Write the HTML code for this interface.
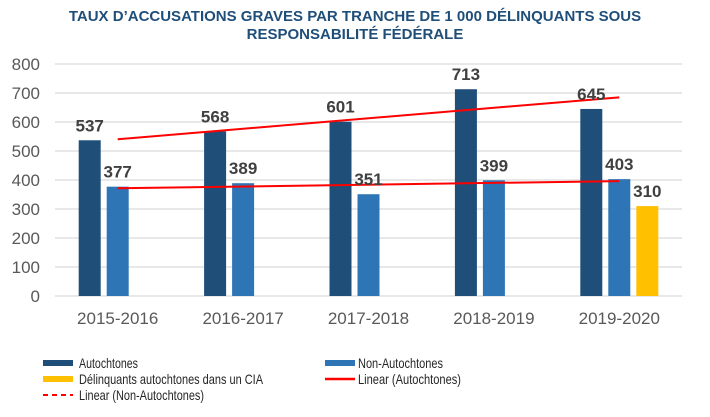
<!DOCTYPE html>
<html><head><meta charset="utf-8"><style>
body{margin:0;background:#fff;}
svg{display:block;font-family:"Liberation Sans",Arial,sans-serif;}
</style></head><body>
<svg id="chart" width="710" height="417">
<text x="355" y="21" text-anchor="middle" font-size="15" font-weight="bold" fill="#1f4e79">TAUX D’ACCUSATIONS GRAVES PAR TRANCHE DE 1 000 DÉLINQUANTS SOUS</text>
<text x="355" y="39" text-anchor="middle" font-size="15" font-weight="bold" fill="#1f4e79">RESPONSABILITÉ FÉDÉRALE</text>
<g id="grid"></g><g id="bars"></g><g id="trends"></g><g id="labels"></g>
<g font-size="14" fill="#262626">
 <rect x="43" y="360" width="30" height="6" fill="#1f4e79"/>
 <text x="79" y="368" textLength="59" lengthAdjust="spacingAndGlyphs">Autochtones</text>
 <rect x="325" y="360" width="30" height="6" fill="#2e75b6"/>
 <text x="358" y="368" textLength="85" lengthAdjust="spacingAndGlyphs">Non-Autochtones</text>
 <rect x="43" y="376" width="30" height="6" fill="#ffc000"/>
 <text x="79" y="384" textLength="184" lengthAdjust="spacingAndGlyphs">Délinquants autochtones dans un CIA</text>
 <line x1="325" y1="379" x2="355" y2="379" stroke="#ff0000" stroke-width="2.5"/>
 <text x="358" y="384" textLength="103" lengthAdjust="spacingAndGlyphs">Linear (Autochtones)</text>
 <line x1="43" y1="395" x2="73" y2="395" stroke="#ff0000" stroke-width="2" stroke-dasharray="5,4"/>
 <text x="79" y="400" textLength="125" lengthAdjust="spacingAndGlyphs">Linear (Non-Autochtones)</text>
</g>
</svg>
<script>
const categories=["2015-2016","2016-2017","2017-2018","2018-2019","2019-2020"];
const autochtones=[537,568,601,713,645];
const nonAutochtones=[377,389,351,399,403];
const cia=[null,null,null,null,310];
const yTicks=[0,100,200,300,400,500,600,700,800];
const NS="http://www.w3.org/2000/svg";
const x0=55,x1=682,y0=296,yTop=64,yMax=800;
const catW=(x1-x0)/categories.length;
function y(v){return y0-(v/yMax)*(y0-yTop);}
function cx(i){return x0+catW*(i+0.5);}
function mk(tag,attrs,parent,text){const e=document.createElementNS(NS,tag);for(const k in attrs)e.setAttribute(k,attrs[k]);if(text!=null)e.textContent=text;document.getElementById(parent).appendChild(e);return e;}
yTicks.forEach(t=>{
 const l=mk("line",{x1:x0,x2:x1,y1:y(t),y2:y(t),stroke:"#d9d9d9","stroke-width":1.3},"grid");
 
 
 const tx=mk("text",{x:40,y:y(t)+6,"text-anchor":"end","font-size":17,fill:"#595959"},"grid",t);
 
 
});
const bw=22,step=28;
const series=[[autochtones,"#1f4e79","bar-autochtones"],[nonAutochtones,"#2e75b6","bar-non-autochtones"],[cia,"#ffc000","bar-cia"]];
categories.forEach((c,i)=>{
 const start=cx(i)-(bw+2*step)/2;
 series.forEach((s,j)=>{
  const v=s[0][i]; if(v==null)return;
  const bx=start+j*step;
  const r=mk("rect",{x:bx,y:y(v),width:bw,height:y0-y(v),fill:s[1]},"bars");
  
  
  const t=mk("text",{x:bx+bw/2,y:y(v)-9,"text-anchor":"middle","font-size":17,"font-weight":"bold",fill:"#404040"},"labels",v);
  
  
 });
 const xl=mk("text",{x:cx(i),y:324,"text-anchor":"middle","font-size":17,fill:"#595959"},"labels",c);
 
 
});
function trend(vals,name){
 const n=vals.length,mx=(n-1)/2,my=vals.reduce((a,b)=>a+b,0)/n;
 let num=0,den=0;vals.forEach((v,i)=>{num+=(i-mx)*(v-my);den+=(i-mx)*(i-mx);});
 const b=num/den,a=my-b*mx;
 const l=mk("line",{x1:cx(0),y1:y(a),x2:cx(n-1),y2:y(a+b*(n-1)),stroke:"#ff0000","stroke-width":2},"trends");
 
 
}
trend(autochtones,'trend-line-autochtones');
trend(nonAutochtones,'trend-line-non-autochtones');
</script>
</body></html>
